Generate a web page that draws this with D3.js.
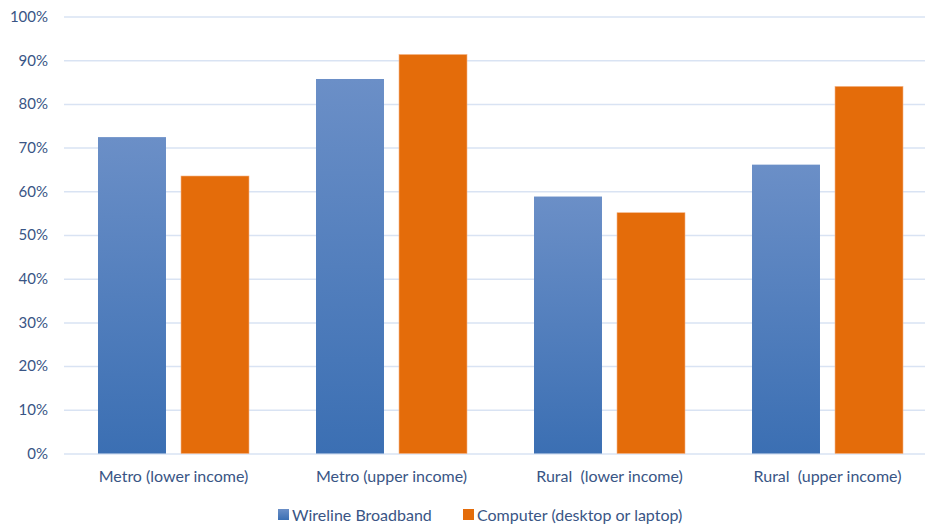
<!DOCTYPE html>
<html><head><meta charset="utf-8">
<script src="https://cdn.jsdelivr.net/npm/d3@7/dist/d3.min.js"></script>
<style>body{margin:0;background:#fff}text{font-family:Lato,"Open Sans",sans-serif;fill:#395585;white-space:pre}</style>
</head><body><svg id="c" width="927" height="526"></svg>
<script>
const categories = ["Metro (lower income)", "Metro (upper income)", "Rural  (lower income)", "Rural  (upper income)"];
const seriesNames = ["Wireline Broadband", "Computer (desktop or laptop)"];
const broadband = [0.724, 0.857, 0.588, 0.661];
const computer = [0.635, 0.913, 0.551, 0.840];
const yTicks = [0, 0.1, 0.2, 0.3, 0.4, 0.5, 0.6, 0.7, 0.8, 0.9, 1.0];

const svg = d3.select("#c");
const m = {l: 64, r: 2, t: 16.5, b: 72.5};
const W = 927 - m.l - m.r, H = 526 - m.t - m.b;
const g = svg.append("g").attr("transform", `translate(${m.l},${m.t})`);
const defs = svg.append("defs");
const gr = defs.append("linearGradient").attr("id","bg").attr("x1",0).attr("y1",0).attr("x2",0).attr("y2",1);
gr.append("stop").attr("offset","0%").attr("stop-color","#6b8fc7");
gr.append("stop").attr("offset","100%").attr("stop-color","#3b6fb3");

const x0 = d3.scaleBand().domain(categories).range([0.5, 872.5]).paddingInner(0).paddingOuter(0);
const x1 = d3.scaleBand().domain(seriesNames).range([33.5, 184.5]).paddingInner(0.181);
const y = d3.scaleLinear().domain([0, 1]).range([H, 0]);

const yAxis = d3.axisLeft(y).tickValues(yTicks).tickFormat(d3.format(".0%")).tickSize(-W).tickPadding(16);
const ya = g.append("g").call(yAxis);
ya.select(".domain").remove();
ya.selectAll("line").attr("stroke", "#d9e3f3").attr("stroke-width", 1.5);
ya.selectAll("text").style("font-size", "15px").attr("x", -16);

const data = categories.map((c, i) => ({c, vals: [{s: seriesNames[0], v: broadband[i]}, {s: seriesNames[1], v: computer[i]}]}));
const grp = g.selectAll(".grp").data(data).join("g").attr("transform", d => `translate(${x0(d.c)},0)`);
grp.selectAll("rect").data(d => d.vals).join("rect")
  .attr("x", d => x1(d.s)).attr("width", x1.bandwidth())
  .attr("y", d => y(d.v)).attr("height", d => H - y(d.v))
  .attr("fill", d => d.s === seriesNames[0] ? "url(#bg)" : "#e46c0a")
  .attr("stroke", d => d.s === seriesNames[0] ? "none" : "#f4b183").attr("stroke-width", 0.6);

const xAxis = d3.axisBottom(x0).tickSize(0).tickPadding(17);
const xa = g.append("g").attr("transform", `translate(0,${H})`).call(xAxis);
xa.select(".domain").remove();
xa.selectAll("text").style("font-size", "16px");

const leg = svg.append("g");
const legX = [278, 463];
seriesNames.forEach((s, i) => {
  leg.append("rect").attr("x", legX[i]).attr("y", 509).attr("width", 11).attr("height", 11)
    .attr("fill", i === 0 ? "url(#bg)" : "#e46c0a");
  leg.append("text").attr("x", legX[i] + 14).attr("y", 521).style("font-size", "16px").text(s);
});
</script></body></html>
